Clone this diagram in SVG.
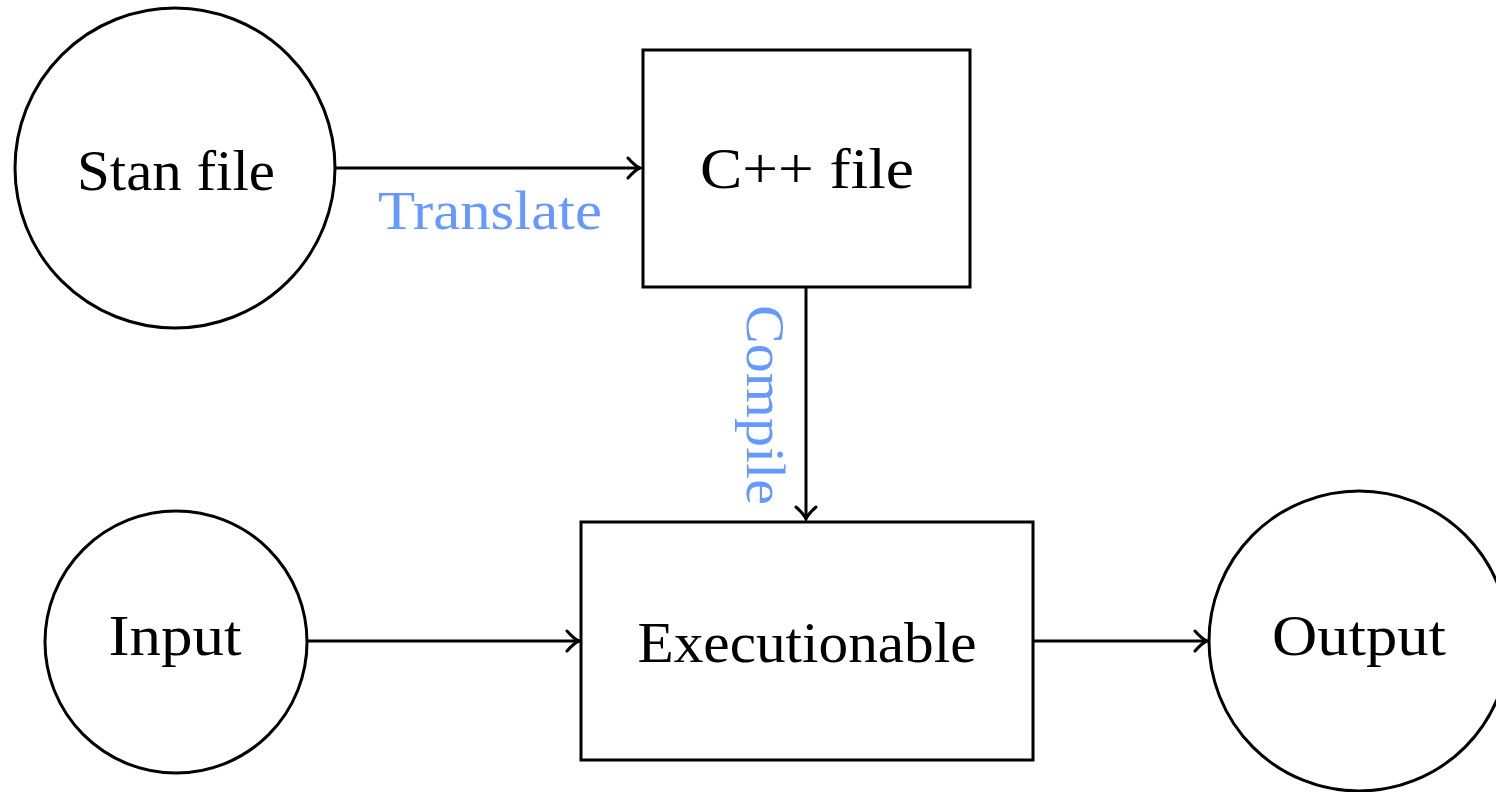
<svg xmlns="http://www.w3.org/2000/svg" width="1496" height="792" viewBox="0 0 1496 792">
  <style>
    .shape { fill: #ffffff; stroke: #000000; stroke-width: 3; }
    .edge { fill: none; stroke: #000000; stroke-width: 3; marker-end: url(#to); }
    .lbl { font-family: "Liberation Serif", "DejaVu Serif", serif; font-size: 56px; fill: #000000; text-anchor: middle; }
    .elbl { font-family: "Liberation Serif", "DejaVu Serif", serif; font-size: 55px; fill: #6699ff; }
  </style>
  <defs>
    <!-- open curved arrow tip, drawn with its point at the path end -->
    <marker id="to" viewBox="-14 -12 16 24" refX="0" refY="0" markerWidth="16" markerHeight="24" markerUnits="userSpaceOnUse" orient="auto">
      <path d="M -12 -10 Q -5 -2 0 0 Q -5 2 -12 10" fill="none" stroke="#000000" stroke-width="3" stroke-linecap="round"/>
    </marker>
  </defs>
  <rect width="1496" height="792" fill="#ffffff"/>

  <g id="connectors">
    <path class="edge" d="M 336 168 L 640 168"/>
    <path class="edge" d="M 806 287 L 806 519"/>
    <path class="edge" d="M 308 641 L 579 641"/>
    <path class="edge" d="M 1033 641 L 1207 641"/>
    <text class="elbl" x="378" y="229" textLength="224" lengthAdjust="spacingAndGlyphs">Translate</text>
    <text class="elbl" transform="translate(747 305) rotate(90)" x="0" y="0" textLength="200" lengthAdjust="spacingAndGlyphs">Compile</text>
  </g>

  <g id="stan">
    <circle class="shape" cx="175" cy="168" r="160"/>
    <text class="lbl" x="176" y="190" textLength="198" lengthAdjust="spacingAndGlyphs">Stan file</text>
  </g>

  <g id="cpp">
    <rect class="shape" x="643" y="50" width="327" height="237"/>
    <text class="lbl" x="807" y="188" textLength="214" lengthAdjust="spacingAndGlyphs">C++ file</text>
  </g>

  <g id="input">
    <circle class="shape" cx="176" cy="642" r="131"/>
    <text class="lbl" x="175" y="655" textLength="133" lengthAdjust="spacingAndGlyphs">Input</text>
  </g>

  <g id="exec">
    <rect class="shape" x="581" y="522" width="452" height="238"/>
    <text class="lbl" x="807" y="662" textLength="339" lengthAdjust="spacingAndGlyphs">Executionable</text>
  </g>

  <g id="output">
    <circle class="shape" cx="1359" cy="641" r="150"/>
    <text class="lbl" x="1359" y="655" textLength="174" lengthAdjust="spacingAndGlyphs">Output</text>
  </g>
</svg>
